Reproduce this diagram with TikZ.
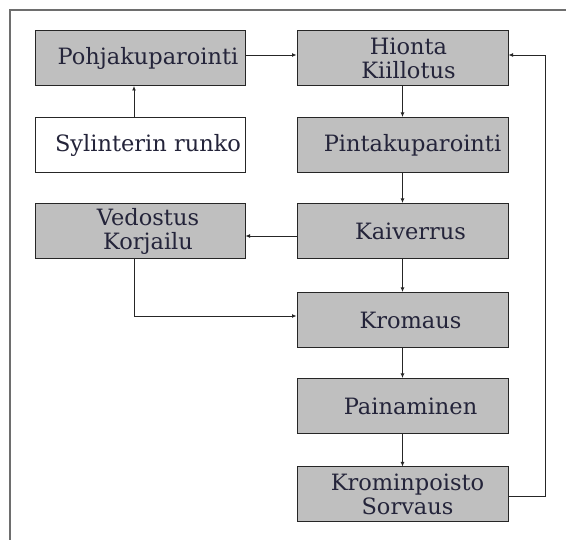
\documentclass[tikz,border=0pt]{standalone}
\usepackage{fontspec}
\setmainfont{DejaVu Serif}
\usepackage{xcolor}
\definecolor{boxfill}{HTML}{BFBFBF}
\definecolor{ink}{HTML}{24243A}
\definecolor{framegray}{HTML}{6E6E6E}
\usepackage{tikz}
\usetikzlibrary{positioning,arrows.meta,calc}

\begin{document}
\begin{tikzpicture}[x=1pt, y=-1pt,
    stage/.style={draw=black!85, line width=1pt, fill=boxfill, minimum height=55pt, inner sep=0pt},
    leftstage/.style={stage, minimum width=210pt},
    rightstage/.style={stage, minimum width=211pt},
    stagetext/.style={inner sep=0pt, align=center, text=ink, font=\fontsize{22.5}{24}\selectfont},
    flow/.style={draw=black!85, line width=0.9pt, -{Latex[length=4.5pt,width=4pt]}}]
  \useasboundingbox (0,0) rectangle (566,540);
  % frame of the page
  \draw[framegray, line width=1.2pt] (10,545) -- (10,10) -- (570,10);
  % left column
  \node[leftstage] (pohja) at (140,58) {};
  \node[leftstage, fill=white] (runko) at (140,145) {};
  \node[leftstage] (vedos) at (140,231) {};
  % right column
  \node[rightstage] (hionta) at (402.5,58) {};
  \node[rightstage] (pinta) at (402.5,145) {};
  \node[rightstage] (kaiv) at (402.5,231) {};
  \node[rightstage] (krom) at (402.5,320) {};
  \node[rightstage] (paina) at (402.5,406) {};
  \node[rightstage] (kpoisto) at (402.5,494.5) {};
  % texts, set a little right of the box centre
  \node[stagetext] (pohjat) at ([xshift=8pt]pohja) {Pohjakuparointi};
  \node[stagetext] (runkot) at ([xshift=8pt]runko) {Sylinterin runko};
  \node[stagetext] (vedost) at ([xshift=8pt]vedos) {Vedostus\\Korjailu};
  \node[stagetext] (hiontat) at ([xshift=6pt]hionta) {Hionta\\Kiillotus};
  \node[stagetext] (pintat) at ([xshift=10pt]pinta) {Pintakuparointi};
  \node[stagetext] (kaivt) at ([xshift=8pt]kaiv) {Kaiverrus};
  \node[stagetext] (kromt) at ([xshift=8pt]krom) {Kromaus};
  \node[stagetext] (painat) at ([xshift=8pt]paina) {Painaminen};
  \node[stagetext] (kpoistot) at ([xshift=5pt]kpoisto) {Krominpoisto\\Sorvaus};
  % connectors
  \draw[flow] ([xshift=-6pt]runko.north) -- ([xshift=-6pt]pohja.south);
  \draw[flow] ([yshift=3pt]pohja.east) -- ([yshift=3pt]hionta.west);
  \draw[flow] (hionta) -- (pinta);
  \draw[flow] (pinta) -- (kaiv);
  \draw[flow] ([yshift=-5pt]kaiv.west) -- ([yshift=-5pt]vedos.east);
  \draw[flow] (kaiv) -- (krom);
  \draw[flow] ([xshift=-6pt]vedos.south) |- ([yshift=4pt]krom.west);
  \draw[flow] (krom) -- (paina);
  \draw[flow] (paina) -- (kpoisto);
  \draw[flow] ([yshift=-2pt]kpoisto.east) -- ++(37,0) |- ([yshift=3pt]hionta.east);
\end{tikzpicture}
\end{document}
